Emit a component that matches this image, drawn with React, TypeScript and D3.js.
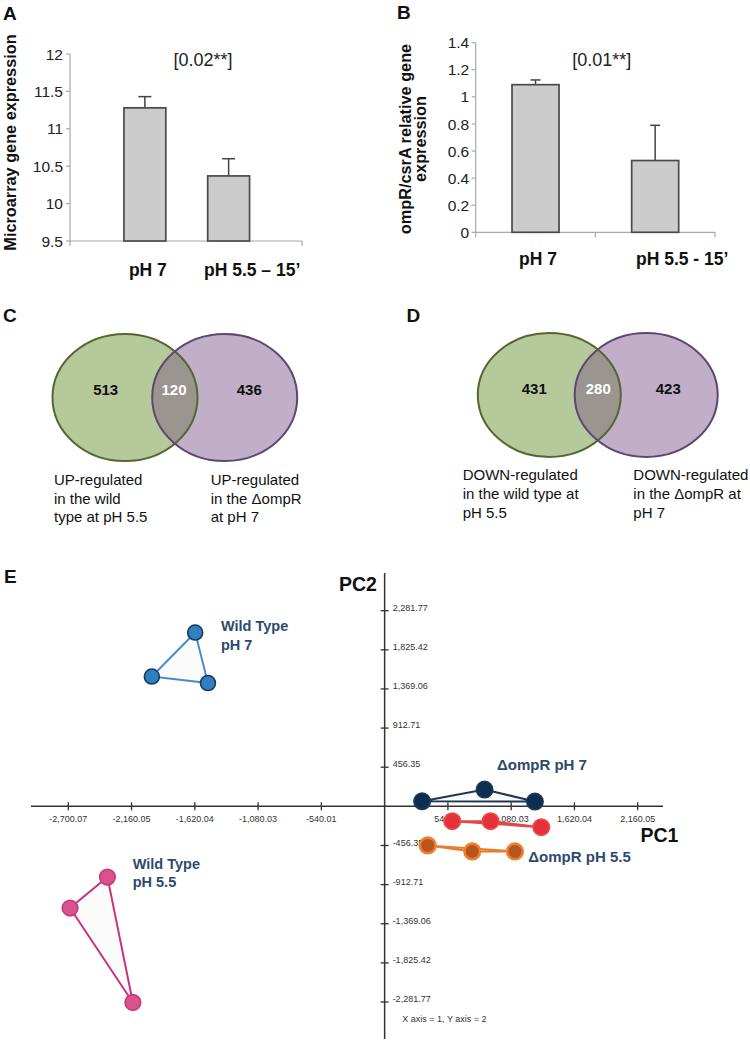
import React from "react";
import * as d3 from "d3";

const FONT = "'Liberation Sans', Arial, Helvetica, sans-serif";

// ---------- Panel A ----------
const barCatsA = ["pH 7", "pH 5.5 – 15’"];
const barValsA = [11.28, 10.37];
const barErrA = [0.15, 0.23];
const yTicksA = [9.5, 10, 10.5, 11, 11.5, 12];
const yLabelA = ["Microarray gene expression"];
const pValueA = "[0.02**]";

// ---------- Panel B ----------
const barCatsB = ["pH 7", "pH 5.5 - 15’"];
const barValsB = [1.09, 0.53];
const barErrB = [0.035, 0.26];
const yTicksB = [0, 0.2, 0.4, 0.6, 0.8, 1, 1.2, 1.4];
const yLabelB = ["ompR/csrA relative gene", "expression"];
const pValueB = "[0.01**]";

// ---------- Venn C / D ----------
const vennCountsC = [513, 120, 436];
const vennLabelsC = [
  ["UP-regulated", "in the wild", "type at pH 5.5"],
  ["UP-regulated", "in the ΔompR", "at pH 7"],
];
const vennCountsD = [431, 280, 423];
const vennLabelsD = [
  ["DOWN-regulated", "in the wild type at", "pH 5.5"],
  ["DOWN-regulated", "in the ΔompR at", "pH 7"],
];

// ---------- PCA E ----------
const pcaXTicks = [-2700.07, -2160.05, -1620.04, -1080.03, -540.01, 540.01, 1080.03, 1620.04, 2160.05];
const pcaYTicks = [2281.77, 1825.42, 1369.06, 912.71, 456.35, -456.35, -912.71, -1369.06, -1825.42, -2281.77];
const wtPh7 = [[-1617, 2027], [-1987, 1514], [-1508, 1438]];
const wtPh55 = [[-2366, -825], [-2685, -1186], [-2149, -2287]];
const ompRPh7 = [[320, 59], [853, 196], [1283, 56]];
const ompRRed = [[577, -173], [904, -173], [1337, -243]];
const ompRPh55 = [[368, -456], [748, -526], [1112, -526]];

const fmtLocale = d3.formatLocale({ decimal: ".", thousands: ",", grouping: [3], currency: ["$", ""], minus: "-" });
const fmt = fmtLocale.format(",.2f");

type BarProps = {
  cats: string[]; vals: number[]; errs: number[]; ticks: number[];
  band: [number, number]; pi: number; po: number;
  yDomain: [number, number]; yRange: [number, number];
  axisX0: number; axisX1: number; xTickMarks: number[];
  labelDx: number[]; labelY: number; tickGap: number;
  yLabel: string[]; yLabelX: number[]; yLabelY: number;
  pValue: string; pX: number; pY: number;
  letter: string; letterX: number; letterY: number; cap: number;
};

function BarPanel(p: BarProps) {
  const x = d3.scaleBand().domain(p.cats).range(p.band).paddingInner(p.pi).paddingOuter(p.po);
  const y = d3.scaleLinear().domain(p.yDomain).range(p.yRange);
  const y0 = y(p.yDomain[0]);
  const bw = x.bandwidth();
  return (
    <g fontFamily={FONT}>
      <text x={p.letterX} y={p.letterY} fontSize={19} fontWeight="bold" fill="#111">{p.letter}</text>
      <line x1={p.axisX0} x2={p.axisX0} y1={y0} y2={y(p.yDomain[1])} stroke="#a8a8a8" strokeWidth={1.2} />
      <line x1={p.axisX0} x2={p.axisX1} y1={y0} y2={y0} stroke="#a8a8a8" strokeWidth={1.2} />
      {p.xTickMarks.map((t, i) => (
        <line key={i} x1={t} x2={t} y1={y0} y2={y0 + 5} stroke="#a8a8a8" strokeWidth={1.2} />
      ))}
      {p.ticks.map((t) => (
        <g key={t}>
          <line x1={p.axisX0 - 4} x2={p.axisX0} y1={y(t)} y2={y(t)} stroke="#a8a8a8" strokeWidth={1.2} />
          <text x={p.axisX0 - p.tickGap} y={y(t)} dy="0.36em" textAnchor="end" fontSize={15.5} fill="#222">{String(t)}</text>
        </g>
      ))}
      {p.cats.map((c, i) => {
        const cx = (x(c) as number) + bw / 2;
        const top = y(p.vals[i]);
        const et = y(p.vals[i] + p.errs[i]);
        return (
          <g key={c}>
            <line x1={cx} x2={cx} y1={top} y2={et} stroke="#444" strokeWidth={1.5} />
            <line x1={cx - p.cap / 2} x2={cx + p.cap / 2} y1={et} y2={et} stroke="#444" strokeWidth={1.5} />
            <rect x={x(c)} y={top} width={bw} height={y0 - top} fill="#cccccc" stroke="#4a4a4a" strokeWidth={1.7} />
            <text x={cx + p.labelDx[i]} y={p.labelY} textAnchor="middle" fontSize={17.5} fontWeight="bold" fill="#111">{c}</text>
          </g>
        );
      })}
      {p.yLabel.map((l, i) => (
        <text key={i} transform={`translate(${p.yLabelX[i]},${p.yLabelY}) rotate(-90)`} textAnchor="middle" fontSize={16.3} fontWeight="bold" fill="#111">{l}</text>
      ))}
      <text x={p.pX} y={p.pY} textAnchor="middle" fontSize={18} fill="#222">{p.pValue}</text>
    </g>
  );
}

type VennProps = {
  id: string; counts: number[]; labels: string[][];
  cx: [number, number]; cy: number; rx: number; ry: number;
  numX: number[]; numY: number; labX: number[]; labY: number; lineH: number;
  letter: string; letterX: number; letterY: number;
};

function Venn(p: VennProps) {
  return (
    <g fontFamily={FONT}>
      <defs>
        <clipPath id={p.id}>
          <ellipse cx={p.cx[0]} cy={p.cy} rx={p.rx} ry={p.ry} />
        </clipPath>
      </defs>
      <text x={p.letterX} y={p.letterY} fontSize={19} fontWeight="bold" fill="#111">{p.letter}</text>
      <ellipse cx={p.cx[0]} cy={p.cy} rx={p.rx} ry={p.ry} fill="#b5c99b" />
      <ellipse cx={p.cx[1]} cy={p.cy} rx={p.rx} ry={p.ry} fill="#c1aec9" />
      <ellipse cx={p.cx[1]} cy={p.cy} rx={p.rx} ry={p.ry} fill="#9a958f" clipPath={`url(#${p.id})`} />
      <ellipse cx={p.cx[0]} cy={p.cy} rx={p.rx} ry={p.ry} fill="none" stroke="#56662f" strokeWidth={2} />
      <ellipse cx={p.cx[1]} cy={p.cy} rx={p.rx} ry={p.ry} fill="none" stroke="#5c4872" strokeWidth={2} />
      {p.counts.map((c, i) => (
        <text key={i} x={p.numX[i]} y={p.numY} dy="0.36em" textAnchor="middle" fontSize={15} fontWeight="bold" fill={i === 1 ? "#ffffff" : "#111"}>{c}</text>
      ))}
      {p.labels.map((lines, i) => (
        <g key={i}>
          {lines.map((l, j) => (
            <text key={j} x={p.labX[i]} y={p.labY + j * p.lineH} dy="0.36em" fontSize={15} fill="#111">{l}</text>
          ))}
        </g>
      ))}
    </g>
  );
}

function PCA() {
  const x = d3.scaleLinear().domain([-2700.07, 2160.05]).range([68.3, 637.7]);
  const y = d3.scaleLinear().domain([-2281.77, 2281.77]).range([1002, 610.7]);
  const ox = x(0);
  const oy = y(0);
  const groups = [
    { pts: wtPh7, fill: "#2f7fc1", stroke: "#17395e", line: "#4a8dc6", sw: 1.6, r: 7.5 },
    { pts: wtPh55, fill: "#d9528e", stroke: "#c23b7b", line: "#c8347d", sw: 1.6, r: 7.8 },
    { pts: ompRPh7, fill: "#0f2d4f", stroke: "#163a60", line: "#1c3656", sw: 1.6, r: 8.2 },
    { pts: ompRRed, fill: "#e5313a", stroke: "#ee4a4a", line: "#e04848", sw: 1.6, r: 8.2 },
    { pts: ompRPh55, fill: "#b5561e", stroke: "#ef7f2f", line: "#e97c2e", sw: 2.6, r: 7.8 },
  ];
  const lineGen = d3.line<number[]>().x((d) => x(d[0])).y((d) => y(d[1]));
  const labelColor = "#2d4a6d";
  return (
    <g fontFamily={FONT}>
      <text x={4} y={583} fontSize={19} fontWeight="bold" fill="#111">E</text>
      <line x1={31} x2={663} y1={oy} y2={oy} stroke="#333" strokeWidth={1.5} />
      <line x1={ox} x2={ox} y1={573} y2={1039} stroke="#333" strokeWidth={1.5} />
      {pcaXTicks.map((t) => (
        <g key={t}>
          <line x1={x(t)} x2={x(t)} y1={oy - 4} y2={oy + 4} stroke="#333" strokeWidth={1.3} />
          <text x={x(t)} y={oy + 12} dy="0.36em" textAnchor="middle" fontSize={9} fill="#333">{fmt(t)}</text>
        </g>
      ))}
      {pcaYTicks.map((t) => (
        <g key={t}>
          <line x1={ox - 4} x2={ox + 4} y1={y(t)} y2={y(t)} stroke="#333" strokeWidth={1.3} />
          <text x={ox + 8} y={y(t) - 3} dy="0.36em" fontSize={9} fill="#333">{fmt(t)}</text>
        </g>
      ))}
      <text x={339} y={591} fontSize={19.5} fontWeight="bold" fill="#111">PC2</text>
      <text x={640.5} y={842} fontSize={19.5} fontWeight="bold" fill="#111">PC1</text>
      <text x={402.3} y={1019} dy="0.36em" fontSize={9} fill="#333">X axis = 1, Y axis = 2</text>
      {groups.map((g, i) => (
        <g key={i}>
          <path d={(lineGen(g.pts) || "") + "Z"} fill="#f4f4f4" fillOpacity={0.35} stroke={g.line} strokeWidth={2} />
          {g.pts.map((pt, j) => (
            <circle key={j} cx={x(pt[0])} cy={y(pt[1])} r={g.r} fill={g.fill} stroke={g.stroke} strokeWidth={g.sw} />
          ))}
        </g>
      ))}
      <text x={221} y={631} fontSize={14.5} fontWeight="bold" fill={labelColor}>Wild Type</text>
      <text x={221} y={650} fontSize={14.5} fontWeight="bold" fill={labelColor}>pH 7</text>
      <text x={132.7} y={869} fontSize={14.5} fontWeight="bold" fill={labelColor}>Wild Type</text>
      <text x={132.7} y={887} fontSize={14.5} fontWeight="bold" fill={labelColor}>pH 5.5</text>
      <text x={497} y={770} fontSize={15} fontWeight="bold" fill={labelColor}>ΔompR pH 7</text>
      <text x={528.3} y={861.5} fontSize={15} fontWeight="bold" fill={labelColor}>ΔompR pH 5.5</text>
    </g>
  );
}

export default function App() {
  return (
    <svg width={750} height={1043} viewBox="0 0 750 1043" style={{ position: "absolute", left: 0, top: 0, background: "#fff" }}>
      <rect x={0} y={0} width={750} height={1043} fill="#fff" />
      <BarPanel
        cats={barCatsA} vals={barValsA} errs={barErrA} ticks={yTicksA}
        band={[103, 270.5]} pi={0.5} po={0.25}
        yDomain={[9.5, 12]} yRange={[241, 54]}
        axisX0={70} axisX1={302} xTickMarks={[70, 302]}
        labelDx={[3, 23.5]} labelY={276} tickGap={7}
        yLabel={yLabelA} yLabelX={[16]} yLabelY={142.5}
        pValue={pValueA} pX={203} pY={66}
        letter="A" letterX={3} letterY={20} cap={13}
      />
      <BarPanel
        cats={barCatsB} vals={barValsB} errs={barErrB} ticks={yTicksB}
        band={[475.7, 715]} pi={0.607} po={0.3035}
        yDomain={[0, 1.4]} yRange={[232.3, 42.7]}
        axisX0={475.7} axisX1={715} xTickMarks={[475.7, 595.35, 715]}
        labelDx={[2.5, 27]} labelY={264.5} tickGap={6.5}
        yLabel={yLabelB} yLabelX={[411, 426]} yLabelY={139}
        pValue={pValueB} pX={601.7} pY={66}
        letter="B" letterX={397} letterY={19} cap={10}
      />
      <Venn
        id="vennC" counts={vennCountsC} labels={vennLabelsC}
        cx={[125, 224.7]} cy={397.5} rx={72.5} ry={63.5}
        numX={[105.7, 174, 249.3]} numY={389.3}
        labX={[54, 210.7]} labY={480} lineH={18.3}
        letter="C" letterX={3} letterY={322}
      />
      <Venn
        id="vennD" counts={vennCountsD} labels={vennLabelsD}
        cx={[549.3, 646.2]} cy={395} rx={71.5} ry={62}
        numX={[534.3, 598.3, 668.3]} numY={388.3}
        labX={[462.7, 633.3]} labY={475} lineH={18.6}
        letter="D" letterX={406.5} letterY={321.5}
      />
      <PCA />
    </svg>
  );
}
